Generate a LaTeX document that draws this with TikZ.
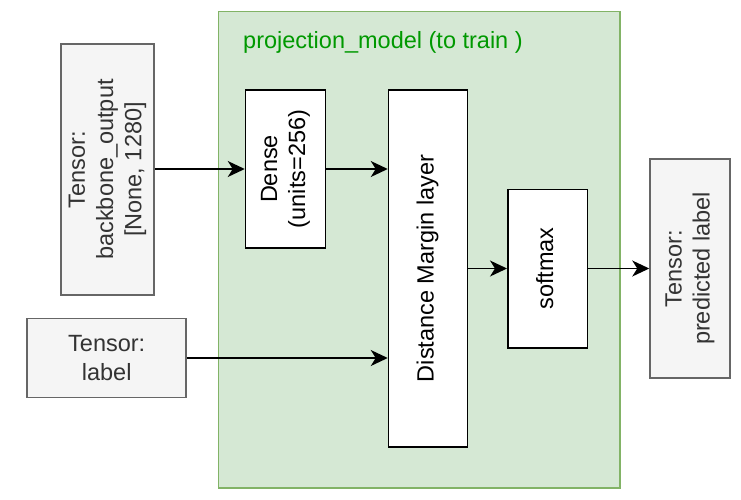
\documentclass[tikz,border=0pt]{standalone}
\usepackage{fontspec}
\setmainfont{Liberation Sans}
\usepackage{graphicx}
\usetikzlibrary{arrows.meta}
\definecolor{gfill}{HTML}{D5E8D4}
\definecolor{gline}{HTML}{82B366}
\definecolor{gtext}{HTML}{009900}
\definecolor{tfill}{HTML}{F5F5F5}
\definecolor{tline}{HTML}{666666}
\definecolor{ttext}{HTML}{333333}
\tikzset{
  base/.style={rectangle, inner sep=0pt, font=\fontsize{23.5}{28.2}\selectfont},
  layerbox/.style={base, draw=black, fill=white, line width=1.5pt, text=black},
  tensorbox/.style={base, draw=tline, fill=tfill, line width=1.5pt, text=ttext},
  arr/.style={draw=black, line width=1.5pt, -{Stealth[length=17pt,width=16pt,inset=5pt]}}
}
\newcommand{\vtext}[1]{\rotatebox{90}{\begin{tabular}{@{}c@{}}#1\end{tabular}}}
\begin{document}
\begin{tikzpicture}[x=1pt,y=-1pt]
\useasboundingbox (0,0) rectangle (741,499);
% container
\node[draw=gline, fill=gfill, line width=1.5pt, inner sep=0pt, minimum width=401.5pt, minimum height=476.5pt, anchor=north west] (cont) at (217.5,10.5) {};
\node[base, text=gtext, anchor=base west] (title) at (243,48) {projection\_model (to train )};
% nodes
\node[tensorbox, minimum width=93pt, minimum height=251pt] (bb) at (107.5,169.5) {\vtext{Tensor:\\backbone\_output\\{}[None, 1280]}};
\node[tensorbox, minimum width=159pt, minimum height=79pt, align=center] (lab) at (106.7,358) {Tensor:\\label};
\node[layerbox, minimum width=80pt, minimum height=158pt] (dense) at (285.5,169) {\vtext{Dense\\(units=256)}};
\node[layerbox, minimum width=79pt, minimum height=357pt] (dml) at (428,268.5) {\vtext{Distance Margin layer}};
\node[layerbox, minimum width=79.5pt, minimum height=158.5pt] (soft) at (547.5,268.5) {\vtext{softmax}};
\node[tensorbox, minimum width=80pt, minimum height=219pt] (pred) at (690,268.5) {\vtext{Tensor:\\predicted label}};
% connectors
\draw[arr] (bb.east |- dense.west) -- (dense.west);
\draw[arr] (dense.east) -- (dense.east -| dml.west);
\draw[arr] (lab.east) -- (lab.east -| dml.west);
\draw[arr] (dml.east |- soft.west) -- (soft.west);
\draw[arr] (soft.east) -- (pred.west);
\end{tikzpicture}
\end{document}
